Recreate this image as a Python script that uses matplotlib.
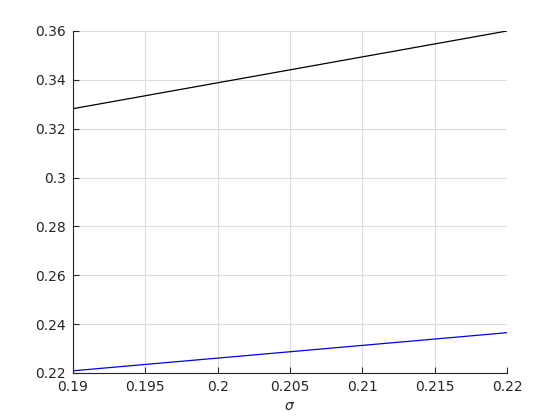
import matplotlib
matplotlib.use("Agg")
import matplotlib.pyplot as plt

# sigma values and the two curves
sigma = [0.19, 0.195, 0.2, 0.205, 0.21, 0.215, 0.22]
black_vals = [0.3282, 0.3335, 0.3388, 0.3441, 0.3494, 0.3547, 0.3600]
blue_vals = [0.2209, 0.2235, 0.2261, 0.2287, 0.2313, 0.2339, 0.2365]

xticks = [0.19, 0.195, 0.2, 0.205, 0.21, 0.215, 0.22]
xticklabels = ["0.19", "0.195", "0.2", "0.205", "0.21", "0.215", "0.22"]
yticks = [0.22, 0.24, 0.26, 0.28, 0.3, 0.32, 0.34, 0.36]
yticklabels = ["0.22", "0.24", "0.26", "0.28", "0.3", "0.32", "0.34", "0.36"]

fig = plt.figure(figsize=(5.6, 4.2), dpi=100)
ax = fig.add_axes([73/560, 1 - 373/420, (507-73)/560, (373-31)/420])

ax.plot(sigma, black_vals, color="black", lw=0.9)
ax.plot(sigma, blue_vals, color="#0000ee", lw=0.9)

ax.set_xlim(0.19, 0.22)
ax.set_ylim(0.22, 0.36)
ax.set_xticks(xticks)
ax.set_xticklabels(xticklabels)
ax.set_yticks(yticks)
ax.set_yticklabels(yticklabels)
ax.grid(True, color="#dcdcdc", lw=0.8)
ax.set_axisbelow(True)

ax.spines["top"].set_visible(False)
ax.spines["right"].set_visible(False)
for s in ["left", "bottom"]:
    ax.spines[s].set_color("#262626")
    ax.spines[s].set_linewidth(0.8)
ax.tick_params(direction="in", length=4, colors="#262626", labelsize=10, pad=5)

ax.set_xlabel(r"$\sigma$", fontsize=10, color="#262626", labelpad=4)

fig.savefig("out.png", dpi=100)
